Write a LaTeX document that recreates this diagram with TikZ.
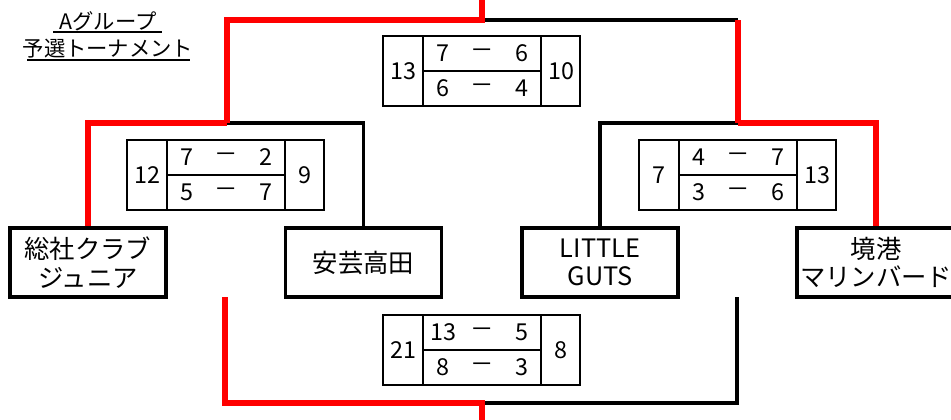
\documentclass[tikz,border=0pt]{standalone}
\usepackage{fontspec}
\setmainfont{Noto Sans CJK JP}
\begin{document}
\begin{tikzpicture}[x=0.75pt,y=-0.75pt,
  win/.style={draw=red,line width=3.8pt},
  lose/.style={draw=black,line width=2.6pt},
  team/.style={draw,line width=2.8pt,inner sep=0pt,minimum width=117pt,minimum height=51.75pt,align=center,font=\fontsize{19}{21.5}\selectfont},
  grid/.style={line width=0.9pt},
  num/.style={inner sep=0pt,font=\fontsize{17.5}{19}\selectfont},
  ttl/.style={inner sep=0pt,font=\fontsize{16}{18}\selectfont}]
\useasboundingbox (0,0) rectangle (951,419);
\clip (0,0) rectangle (951,419);

% title
\node[ttl] (t1) at (108,21) {Aグループ};
\node[ttl] (t2) at (108,49) {予選トーナメント};
\draw[line width=1.2pt] (53,32) -- (162,32);
\draw[line width=1.2pt] (27,60) -- (190,60);

% teams
\node[team] (soja) at (88,262.5) {総社クラブ\\ジュニア};
\node[team] (aki) at (363.5,262.5) {安芸高田};
\node[team] (little) at (600,262.5) {LITTLE\\GUTS};
\node[team,minimum width=118.5pt] (sakai) at (876,262.5) {境港\\マリンバード};

% junctions
\coordinate (j1) at (227,123);
\coordinate (j2) at (738,123);
\coordinate (jt) at (482,20);
\coordinate (jtr) at (738,20);
\coordinate (top) at (482,-5);
\coordinate (bl) at (225,297);
\coordinate (br) at (737,297);
\coordinate (jb) at (482,403);
\coordinate (bot) at (482,425);

% black lines
\draw[lose] (j1) -| (aki.north);
\draw[lose] (little.north) |- (j2);
\draw[lose] (jt) -- (jtr);
\draw[lose] (jb) -| (br);
% red lines
\draw[win] (soja.north) |- (j1);
\draw[win] (j2) -| (sakai.north);
\draw[win] (j1) |- (jt) -- (top);
\draw[win] (jtr) -- (j2);
\draw[win] (bl) |- (jb) -- (bot);

% score tables
\foreach \nm/\xl/\yt/\pa/\pb/\pc/\pd/\pe/\pf in {
  sT/383/36/13/7/6/6/4/10,
  sL/127/140/12/7/2/5/7/9,
  sR/639/140/7/4/7/3/6/13,
  sB/383/315/21/13/5/8/3/8}{
  \draw[grid] (\xl,\yt) rectangle ++(197,70);
  \draw[grid] (\xl+40,\yt) -- ++(0,70);
  \draw[grid] (\xl+158,\yt) -- ++(0,70);
  \draw[grid] (\xl+40,\yt+35) -- ++(118,0);
  \node[num] (\nm-ol) at (\xl+20,\yt+35) {\pa};
  \node[num] (\nm-or) at (\xl+178,\yt+35) {\pf};
  \node[num] (\nm-a) at (\xl+60,\yt+17.5) {\pb};
  \node[num] (\nm-d1) at (\xl+99,\yt+17.5) {－};
  \node[num] (\nm-b) at (\xl+139,\yt+17.5) {\pc};
  \node[num] (\nm-c) at (\xl+60,\yt+52.5) {\pd};
  \node[num] (\nm-d2) at (\xl+99,\yt+52.5) {－};
  \node[num] (\nm-d) at (\xl+139,\yt+52.5) {\pe};
}
\end{tikzpicture}
\end{document}
